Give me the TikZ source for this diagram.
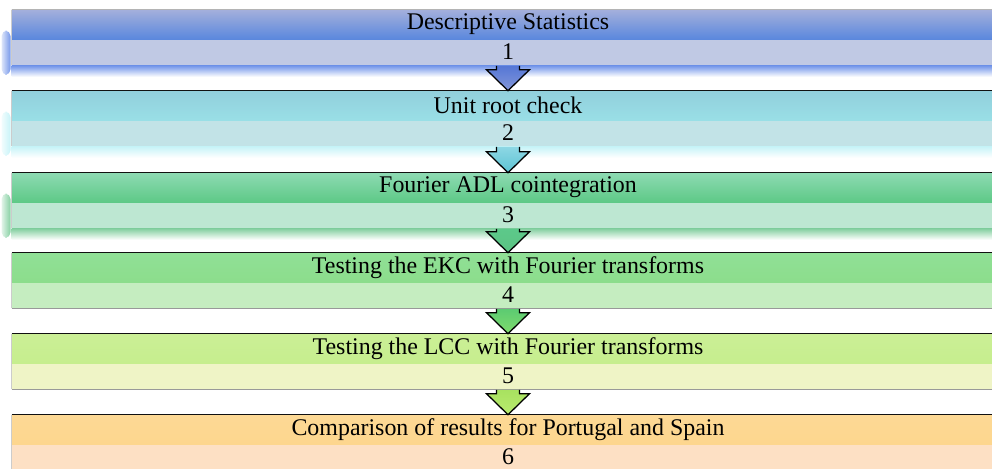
\documentclass[tikz,border=0pt]{standalone}
\usepackage{fontspec}
\setmainfont{Liberation Serif}
\usetikzlibrary{calc}

% band colours
\definecolor{htop1}{HTML}{A3AFDC}\definecolor{hbot1}{HTML}{5B88DD}\definecolor{low1}{HTML}{C0C9E4}
\definecolor{htop2}{HTML}{92CFDC}\definecolor{hbot2}{HTML}{99DFE6}\definecolor{low2}{HTML}{C2E3E7}
\definecolor{htop3}{HTML}{8DDAB2}\definecolor{hbot3}{HTML}{5EC987}\definecolor{low3}{HTML}{BDE7D2}
\definecolor{htop4}{HTML}{90E096}\definecolor{hbot4}{HTML}{8CDD8C}\definecolor{low4}{HTML}{C5EDC0}
\definecolor{htop5}{HTML}{CBEF96}\definecolor{hbot5}{HTML}{C6EE8E}\definecolor{low5}{HTML}{EFF4C6}
\definecolor{htop6}{HTML}{FDD995}\definecolor{hbot6}{HTML}{FDD68E}\definecolor{low6}{HTML}{FDE0C4}
\definecolor{line1}{HTML}{B4B4B4}
\definecolor{line2}{HTML}{111111}\definecolor{line3}{HTML}{111111}
\definecolor{line4}{HTML}{111111}\definecolor{line5}{HTML}{111111}\definecolor{line6}{HTML}{111111}
\definecolor{glow1}{HTML}{7597EA}\definecolor{glow2}{HTML}{C8F4F8}\definecolor{glow3}{HTML}{86D0A2}
% arrow colours
\definecolor{atop1}{HTML}{5577D6}\definecolor{abot1}{HTML}{8396D8}
\definecolor{atop2}{HTML}{8DD7E4}\definecolor{abot2}{HTML}{5CC3D3}
\definecolor{atop3}{HTML}{5CC98A}\definecolor{abot3}{HTML}{5BC383}
\definecolor{atop4}{HTML}{5CCB72}\definecolor{abot4}{HTML}{7FDB6C}
\definecolor{atop5}{HTML}{A8E260}\definecolor{abot5}{HTML}{B9EA6E}

\tikzset{
    bandhead/.style={minimum width=24.8cm, minimum height=0.725cm, inner sep=0pt,
        font=\fontsize{17}{20}\selectfont},
    bandlow/.style={minimum width=24.8cm, minimum height=0.625cm, inner sep=0pt,
        anchor=north, font=\fontsize{17}{20}\selectfont},
    blockarrow/.style={draw=black, line width=0.9pt, line join=miter}
}

\begin{document}
\begin{tikzpicture}[x=0.025cm, y=-0.025cm]

            % the frame
            \useasboundingbox (0,0) rectangle (992,468);
            \path[clip] (0,0) rectangle (992,468);

            % the bands
            \foreach \i/\yy/\title in {1/10/Descriptive Statistics, 2/91/Unit root check,
                3/173/Fourier ADL cointegration, 4/253/Testing the EKC with Fourier transforms,
                5/334/Testing the LCC with Fourier transforms,
                6/415/Comparison of results for Portugal and Spain} {
                \node[bandhead, top color=htop\i, middle color=htop\i, bottom color=hbot\i] (head\i) at (508, {\yy+14.5}) {\title};
                \node[bandlow, fill=low\i] (low\i) at (head\i.south) {\i};
                \draw[line\i, line width=1.1pt] (head\i.north west) -- (head\i.north east);
                \draw[gray!80] (low\i.south west) -- (low\i.south east);
                \draw[gray!40] (head\i.north west) -- (low\i.south west);
            }

            % the glow
            \foreach \i in {1,2,3} {
                \shade[top color=glow\i, bottom color=white] ($(low\i.south west)+(0,1)$) rectangle ($(low\i.south east)+(0,12)$);
                \shade[left color=glow\i!25, right color=glow\i, rounded corners=4pt] ($(head\i.west)+(-10,6)$) rectangle ($(low\i.south west)+(-1,10)$);
            }

            % the arrows
            \foreach \i/\j in {1/2,2/3,3/4,4/5,5/6} {
                \draw[blockarrow, top color=atop\i, bottom color=abot\i]
                    ($(low\i.south)+(-11.5,1)$) -- ($(head\j.north)+(-11.5,-21)$)
                    -- ($(head\j.north)+(-21.5,-21)$) -- (head\j.north)
                    -- ($(head\j.north)+(21.5,-21)$) -- ($(head\j.north)+(11.5,-21)$)
                    -- ($(low\i.south)+(11.5,1)$);
            }

        \end{tikzpicture}
\end{document}
